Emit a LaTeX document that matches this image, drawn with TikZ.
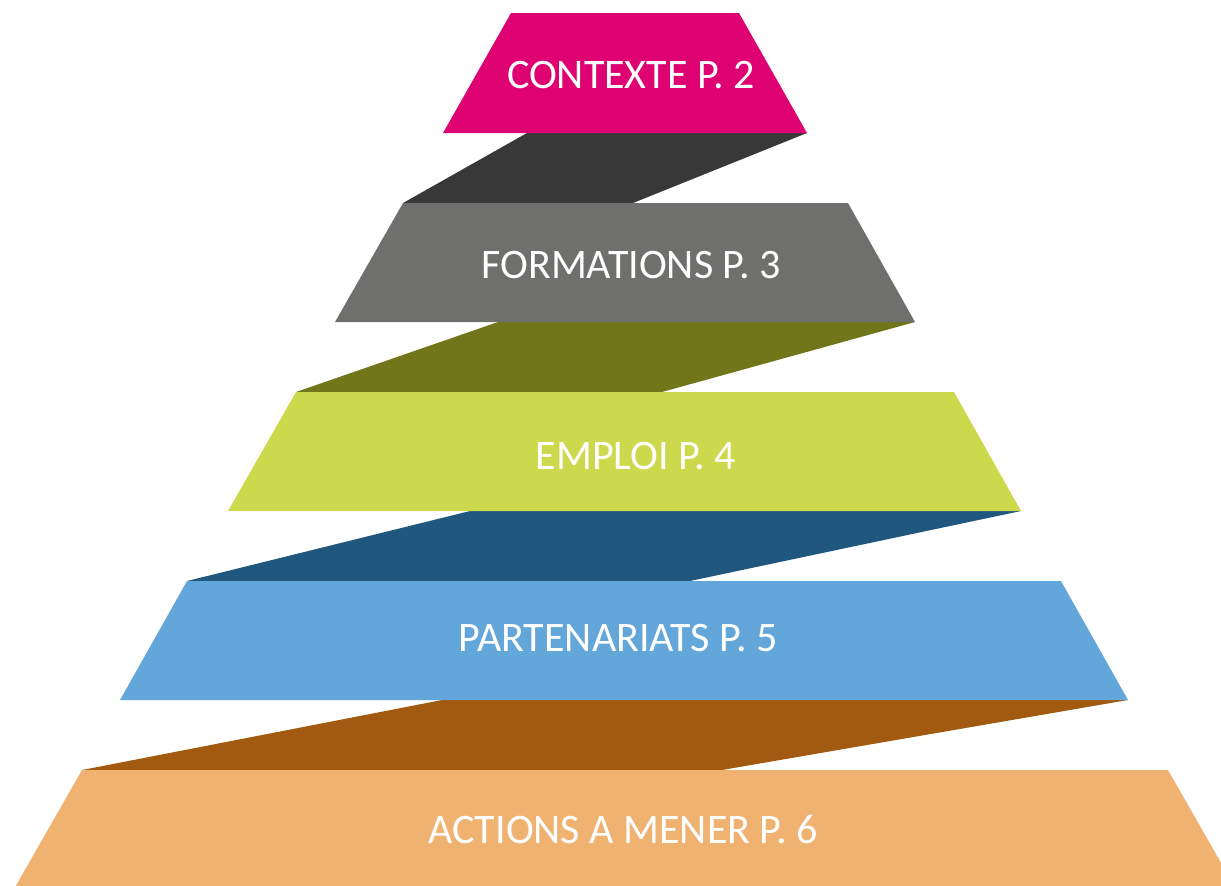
\documentclass[tikz,border=0pt]{standalone}
\usepackage{fontspec}
\setmainfont{Carlito}
\usepackage{tikz}
\definecolor{magentaC}{HTML}{DE0272}
\definecolor{darkC}{HTML}{383838}
\definecolor{grayC}{HTML}{6F6F6D}
\definecolor{oliveC}{HTML}{71761A}
\definecolor{limeC}{HTML}{CDD94C}
\definecolor{navyC}{HTML}{20577F}
\definecolor{skyC}{HTML}{63A6D9}
\definecolor{brownC}{HTML}{A15A0F}
\definecolor{sandC}{HTML}{F0B271}
\newcommand{\slab}[7]{
    \fill[#1] (#4,#2) -- (#5,#2) -- (#7,#3) -- (#6,#3) -- cycle;
}
\tikzset{
    layertext/.style={text=white, font=\fontsize{21}{25}\selectfont, inner sep=0pt}
}

\begin{document}
\begin{tikzpicture}[x=0.5pt, y=-0.5pt]
        \useasboundingbox (0,0) rectangle (1221,885);
        \clip (0,0) rectangle (1221,885);
        % steps between the layers
        \slab{darkC}{133}{203}{527}{807}{403}{633}
        \slab{oliveC}{322}{392}{498}{915}{296}{662}
        \slab{navyC}{511}{581}{470}{1021}{187}{690}
        \slab{brownC}{700}{770}{442}{1128}{82}{722}
        % layers
        \slab{magentaC}{13}{133}{511}{739}{443}{807}
        \slab{grayC}{203}{322}{403}{848}{335}{915}
        \slab{limeC}{392}{511}{296}{954}{228}{1021}
        \slab{skyC}{581}{700}{187}{1061}{120}{1128}
        \slab{sandC}{770}{889}{82}{1168}{14}{1236}
        \node[layertext] (contexte) at (631,75) {CONTEXTE P. 2};
        \node[layertext] (formations) at (631,265) {FORMATIONS P. 3};
        \node[layertext] (emploi) at (636,456) {EMPLOI P. 4};
        \node[layertext] (partenariats) at (618,638) {PARTENARIATS P. 5};
        \node[layertext] (actions) at (623,829) {ACTIONS A MENER P. 6};
    \end{tikzpicture}
\end{document}
